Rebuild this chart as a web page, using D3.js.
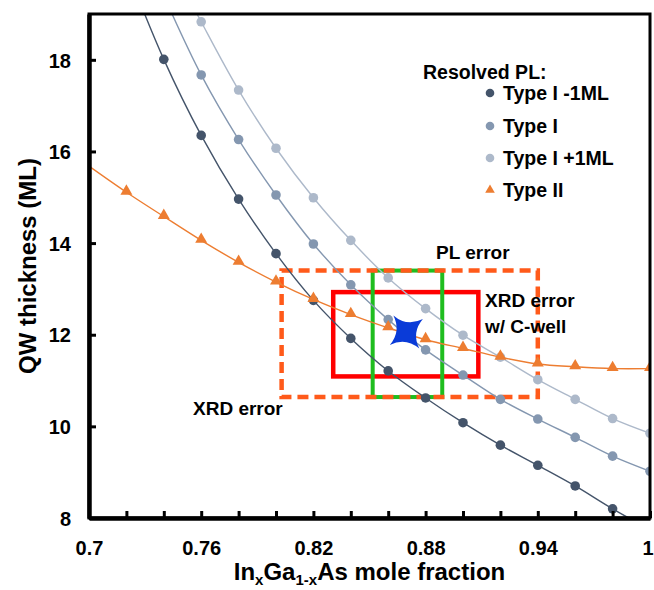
<!DOCTYPE html>
<html>
<head>
<meta charset="utf-8">
<script src="https://cdn.jsdelivr.net/npm/d3@7/dist/d3.min.js"></script>
<style>
  html, body { margin: 0; padding: 0; background: #fff; }
  svg { display: block; font-family: "Liberation Sans", Arial, Helvetica, sans-serif; font-weight: bold; }
</style>
</head>
<body>
<svg id="chart" width="654" height="590"></svg>
<script>
// InGaAs mole fraction grid (x) shared by all series
const xFrac = [0.70, 0.72, 0.74, 0.76, 0.78, 0.80, 0.82, 0.84, 0.86, 0.88, 0.90, 0.92, 0.94, 0.96, 0.98, 1.00];

// QW thickness (ML) for each resolved PL assignment
const typeIminus1 = [null, 20.0, 18.01, 16.35, 14.96, 13.77, 12.75, 11.92, 11.21, 10.62, 10.08, 9.59, 9.15, 8.70, 8.20, 7.75];
const typeI       = [null, null, 19.4, 17.67, 16.26, 15.05, 13.98, 13.09, 12.33, 11.67, 11.12, 10.59, 10.16, 9.76, 9.35, 9.02];
const typeIplus1  = [null, null, 20.4, 18.83, 17.34, 16.07, 14.99, 14.06, 13.24, 12.57, 11.99, 11.51, 11.02, 10.59, 10.17, 9.85];
const typeII      = [15.68, 15.11, 14.58, 14.06, 13.58, 13.15, 12.77, 12.44, 12.15, 11.89, 11.70, 11.51, 11.36, 11.30, 11.26, 11.26];

const seriesNames = ["Type I -1ML", "Type I", "Type I +1ML", "Type II"];

// Error boxes: [x0, x1, y0, y1]
const xrdErrorBox   = [0.803, 0.940, 10.64, 13.40];
const xrdCwellBox   = [0.8306, 0.9082, 11.09, 12.93];
const plErrorBox    = [0.8517, 0.8889, 10.64, 13.40];
// Best estimate (x, thickness)
const bestEstimate  = [0.8697, 12.06];

// Axis ticks
const xTickValues = [0.70, 0.72, 0.74, 0.76, 0.78, 0.80, 0.82, 0.84, 0.86, 0.88, 0.90, 0.92, 0.94, 0.96, 0.98, 1.00];
const xTickLabelValues = [0.70, 0.76, 0.82, 0.88, 0.94, 1.00];
const xTickLabels = ["0.7", "0.76", "0.82", "0.88", "0.94", "1"];
const yTickValues = [8, 10, 12, 14, 16, 18];

const xDomain = [0.7, 1.0];
const yDomain = [8, 19];

const svg = d3.select("#chart");
const plot = { left: 89, right: 650, top: 14, bottom: 518 };

const x = d3.scaleLinear().domain(xDomain).range([plot.left, plot.right]);
const y = d3.scaleLinear().domain(yDomain).range([plot.bottom, plot.top]);

const styles = [
  { color: "#44546a", shape: "circle" },
  { color: "#8497b0", shape: "circle" },
  { color: "#adb9ca", shape: "circle" },
  { color: "#ed7d31", shape: "triangle" }
];
const seriesValues = [typeIminus1, typeI, typeIplus1, typeII];

svg.append("defs").append("clipPath").attr("id", "plotClip")
  .append("rect")
  .attr("x", plot.left).attr("y", plot.top)
  .attr("width", plot.right - plot.left).attr("height", plot.bottom - plot.top);

// Error boxes (drawn under the data)
const boxLayer = svg.append("g");
function drawBox(b, color, dash, width) {
  boxLayer.append("rect")
    .attr("x", x(b[0])).attr("y", y(b[3]))
    .attr("width", x(b[1]) - x(b[0])).attr("height", y(b[2]) - y(b[3]))
    .attr("fill", "none").attr("stroke", color).attr("stroke-width", width)
    .attr("stroke-dasharray", dash);
}
drawBox(xrdCwellBox, "#ff0000", null, 4.5);
drawBox(plErrorBox, "#1fbd1f", null, 4);
drawBox(xrdErrorBox, "#ff5a1a", "11,6", 4.5);

// Series lines and markers
const dataLayer = svg.append("g").attr("clip-path", "url(#plotClip)");
const line = d3.line()
  .defined(d => d.v != null)
  .x(d => x(d.f)).y(d => y(d.v))
  .curve(d3.curveCatmullRom.alpha(0.5));

const triangle = d3.symbol().type(d3.symbolTriangle).size(62);

seriesValues.forEach((vals, i) => {
  const pts = xFrac.map((f, j) => ({ f, v: vals[j] }));
  dataLayer.append("path")
    .datum(pts)
    .attr("d", line)
    .attr("fill", "none")
    .attr("stroke", styles[i].color)
    .attr("stroke-width", 1.4);
  const marks = pts.filter(d => d.v != null && d.f > xDomain[0]);
  if (styles[i].shape === "circle") {
    dataLayer.selectAll(null).data(marks).join("circle")
      .attr("cx", d => x(d.f)).attr("cy", d => y(d.v)).attr("r", 4.8)
      .attr("fill", styles[i].color);
  } else {
    dataLayer.selectAll(null).data(marks).join("path")
      .attr("d", triangle)
      .attr("transform", d => `translate(${x(d.f)},${y(d.v) - 1})`)
      .attr("fill", styles[i].color);
  }
});

// Four-pointed star for the best estimate
(function () {
  const cx = x(bestEstimate[0]), cy = y(bestEstimate[1]);
  const R = 21, rc = 5, rot = -38 * Math.PI / 180;
  const p = d3.path();
  for (let k = 0; k < 4; k++) {
    const a = rot + k * Math.PI / 2;
    const a2 = a + Math.PI / 2;
    const am = a + Math.PI / 4;
    if (k === 0) p.moveTo(cx + R * Math.cos(a), cy + R * Math.sin(a));
    p.quadraticCurveTo(cx + rc * Math.cos(am), cy + rc * Math.sin(am),
                       cx + R * Math.cos(a2), cy + R * Math.sin(a2));
  }
  p.closePath();
  svg.append("path").attr("d", p.toString()).attr("fill", "#0a3bd8");
})();

// Frame
svg.append("rect")
  .attr("x", plot.left).attr("y", plot.top)
  .attr("width", plot.right - plot.left).attr("height", plot.bottom - plot.top)
  .attr("fill", "none").attr("stroke", "#000").attr("stroke-width", 3);

// Axes
const xAxis = d3.axisBottom(x)
  .tickValues(xTickValues)
  .tickSizeInner(-7).tickSizeOuter(0)
  .tickFormat(d => {
    const idx = xTickLabelValues.findIndex(v => Math.abs(v - d) < 1e-9);
    return idx >= 0 ? xTickLabels[idx] : "";
  });
const gx = svg.append("g").attr("transform", `translate(0,${plot.bottom})`).call(xAxis);
gx.select(".domain").attr("stroke", "#000").attr("stroke-width", 4.5);
gx.selectAll(".tick line").attr("stroke", "#000").attr("stroke-width", 3);
gx.selectAll(".tick text")
  .attr("y", 37).attr("dy", 0)
  .attr("fill", "#000").style("font-size", "20px").style("font-weight", "bold")
  .style("font-family", "'Liberation Sans', Arial, sans-serif");
// keep the last label inside the page edge
gx.selectAll(".tick text").filter(d => Math.abs(d - xDomain[1]) < 1e-9)
  .attr("text-anchor", "end").attr("x", 653 - plot.right);

const yAxis = d3.axisLeft(y)
  .tickValues(yTickValues)
  .tickSizeInner(-7).tickSizeOuter(0)
  .tickFormat(d3.format("d"));
const gy = svg.append("g").attr("transform", `translate(${plot.left},0)`).call(yAxis);
gy.select(".domain").attr("stroke", "#000").attr("stroke-width", 4.5);
gy.selectAll(".tick line").attr("stroke", "#000").attr("stroke-width", 3);
gy.selectAll(".tick text")
  .attr("x", -18).attr("dy", "0.36em")
  .attr("fill", "#000").style("font-size", "20px").style("font-weight", "bold")
  .style("font-family", "'Liberation Sans', Arial, sans-serif");

// Axis titles
const xt = svg.append("text")
  .attr("x", (plot.left + plot.right) / 2).attr("y", 580)
  .attr("text-anchor", "middle").style("font-size", "24px").attr("fill", "#000");
xt.append("tspan").text("In");
xt.append("tspan").text("x").style("font-size", "15px").attr("dy", 5);
xt.append("tspan").text("Ga").attr("dy", -5);
xt.append("tspan").text("1-x").style("font-size", "15px").attr("dy", 5);
xt.append("tspan").text("As mole fraction").attr("dy", -5);

svg.append("text")
  .attr("transform", `translate(36,${(plot.top + plot.bottom) / 2}) rotate(-90)`)
  .attr("text-anchor", "middle").style("font-size", "24px").attr("fill", "#000")
  .text("QW thickness (ML)");

// Annotations
const ann = svg.append("g").style("font-size", "19px").attr("fill", "#000");
ann.append("text").attr("x", 436).attr("y", 259).text("PL error");
ann.append("text").attr("x", 485).attr("y", 307).text("XRD error");
ann.append("text").attr("x", 485).attr("y", 333).text("w/ C-well");
ann.append("text").attr("x", 193).attr("y", 415).text("XRD error");

// Legend
const leg = svg.append("g").attr("fill", "#000");
leg.append("text").attr("x", 423).attr("y", 79).style("font-size", "19.5px").text("Resolved PL:");
const legRows = [93, 126, 158, 190];
seriesNames.forEach((name, i) => {
  const row = leg.append("g").attr("transform", `translate(0,${legRows[i]})`);
  if (styles[i].shape === "circle") {
    row.append("circle").attr("cx", 490).attr("cy", 0).attr("r", 4.3).attr("fill", styles[i].color);
  } else {
    row.append("path").attr("d", d3.symbol().type(d3.symbolTriangle).size(40))
      .attr("transform", "translate(490,0)").attr("fill", styles[i].color);
  }
  row.append("text").attr("x", 503).attr("y", 7).style("font-size", "19.5px").text(name);
});
</script>
</body>
</html>
